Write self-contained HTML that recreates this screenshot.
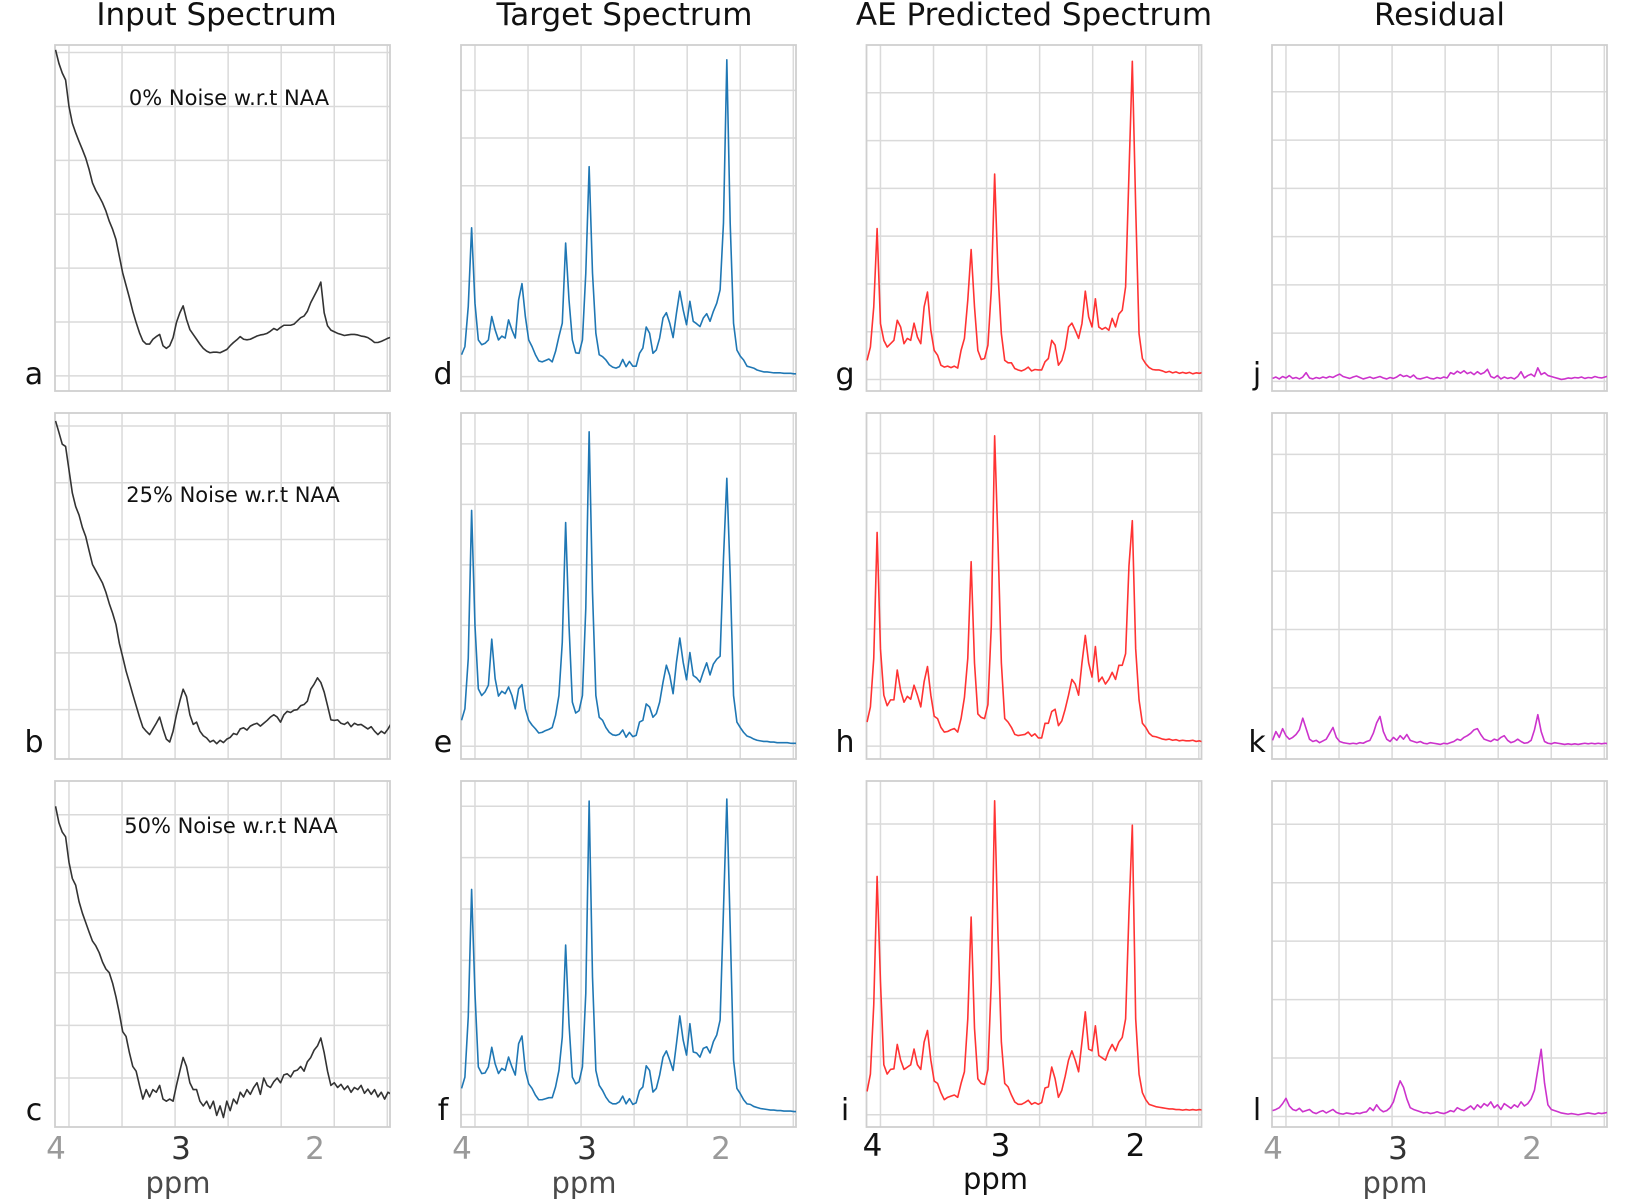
<!DOCTYPE html>
<html><head><meta charset="utf-8"><title>MRS spectra</title>
<style>html,body{margin:0;padding:0;background:#fff}svg{display:block}</style></head>
<body>
<svg id="fig" width="1632" height="1202" viewBox="0 0 1632 1202" xmlns="http://www.w3.org/2000/svg" font-family="DejaVu Sans, Liberation Sans, sans-serif"></svg>
<script>
// ---- data: sample grid (ppm) ----
const ppmStart = 4.04;
const ppmStep = 0.025;
const tickLabels = ["4", "3", "2"];
const tickPpmPlain = [4.037, 3.106, 2.108];
const tickPpmAE = [3.999, 3.046, 2.041];
const gridPpm = [3.94, 3.545, 3.15, 2.755, 2.36, 1.965, 1.57];
const columnTitles = ["Input Spectrum", "Target Spectrum", "AE Predicted Spectrum", "Residual"];
const noiseLabels = ["0% Noise w.r.t NAA", "25% Noise w.r.t NAA", "50% Noise w.r.t NAA"];

// ---- series values ----
const seriesA = [6.05,5.80,5.62,5.49,5.00,4.69,4.51,4.35,4.20,4.04,3.83,3.58,3.44,3.33,3.21,3.06,2.87,2.72,2.53,2.22,1.91,1.68,1.45,1.20,0.99,0.80,0.65,0.59,0.59,0.68,0.73,0.77,0.56,0.51,0.56,0.71,0.99,1.17,1.30,1.05,0.86,0.77,0.68,0.59,0.51,0.46,0.43,0.44,0.44,0.43,0.46,0.49,0.56,0.62,0.67,0.73,0.68,0.67,0.68,0.71,0.74,0.76,0.77,0.79,0.83,0.88,0.85,0.90,0.94,0.94,0.94,0.96,1.02,1.08,1.11,1.20,1.36,1.48,1.60,1.74,1.17,0.93,0.85,0.82,0.79,0.77,0.75,0.76,0.77,0.77,0.76,0.74,0.73,0.71,0.67,0.62,0.62,0.64,0.67,0.70,0.72];
const seriesB = [6.09,5.89,5.68,5.64,5.23,4.82,4.58,4.43,4.21,4.05,3.80,3.56,3.45,3.34,3.23,3.07,2.87,2.70,2.50,2.17,1.93,1.68,1.48,1.27,1.07,0.87,0.69,0.62,0.56,0.66,0.76,0.87,0.66,0.48,0.43,0.62,0.91,1.15,1.36,1.23,0.91,0.74,0.78,0.62,0.54,0.50,0.43,0.46,0.40,0.46,0.42,0.48,0.51,0.58,0.56,0.66,0.68,0.64,0.71,0.74,0.76,0.71,0.76,0.81,0.87,0.91,0.87,0.78,0.91,0.97,0.95,0.99,1.00,1.07,1.09,1.15,1.36,1.45,1.56,1.48,1.31,1.07,0.82,0.81,0.82,0.76,0.74,0.78,0.70,0.76,0.73,0.74,0.70,0.66,0.70,0.62,0.56,0.62,0.58,0.66,0.76];
const seriesC = [6.16,5.85,5.67,5.58,5.10,4.79,4.66,4.35,4.13,3.95,3.77,3.60,3.51,3.38,3.20,3.07,3.00,2.80,2.54,2.23,1.88,1.79,1.48,1.22,1.13,0.86,0.60,0.78,0.64,0.78,0.73,0.86,0.60,0.56,0.60,0.56,0.86,1.13,1.39,1.22,0.91,0.78,0.78,0.56,0.47,0.56,0.42,0.56,0.29,0.47,0.25,0.56,0.38,0.60,0.51,0.73,0.64,0.78,0.69,0.82,0.91,0.69,1.00,0.86,0.82,0.93,1.00,0.91,1.06,1.08,1.02,1.13,1.15,1.22,1.13,1.31,1.39,1.53,1.61,1.76,1.48,1.13,0.86,0.91,0.82,0.88,0.78,0.85,0.73,0.82,0.78,0.86,0.71,0.79,0.69,0.78,0.64,0.73,0.60,0.73,0.69];
const seriesD = [0.46,0.63,1.47,3.12,1.54,0.77,0.67,0.70,0.77,1.26,0.98,0.77,0.85,0.81,1.19,0.98,0.81,1.61,1.95,1.26,0.77,0.63,0.46,0.33,0.31,0.34,0.37,0.31,0.53,0.84,1.12,2.80,1.61,0.77,0.50,0.49,0.77,2.17,4.40,2.17,0.91,0.46,0.42,0.35,0.25,0.20,0.18,0.21,0.36,0.21,0.32,0.22,0.22,0.49,0.60,1.04,0.91,0.49,0.56,0.81,1.23,1.34,1.12,0.82,1.33,1.79,1.40,1.09,1.58,1.16,1.11,1.05,1.23,1.32,1.16,1.37,1.54,1.82,3.22,6.64,3.22,1.12,0.56,0.43,0.35,0.22,0.20,0.18,0.14,0.12,0.10,0.10,0.09,0.08,0.08,0.08,0.07,0.07,0.07,0.06,0.06];
const seriesE = [0.43,0.62,1.45,3.90,2.00,0.95,0.84,0.90,1.01,1.77,1.12,0.83,0.91,0.87,0.98,0.84,0.62,0.95,1.02,0.62,0.43,0.35,0.29,0.22,0.23,0.26,0.28,0.31,0.51,0.84,1.72,3.70,2.00,0.73,0.55,0.59,0.84,2.28,5.20,2.55,0.84,0.48,0.43,0.31,0.23,0.19,0.18,0.20,0.27,0.15,0.23,0.16,0.18,0.40,0.43,0.70,0.65,0.48,0.54,0.73,1.06,1.34,1.17,0.87,1.39,1.79,1.39,1.10,1.55,1.17,1.13,1.06,1.23,1.38,1.18,1.36,1.44,1.49,3.10,4.43,2.83,0.84,0.40,0.31,0.23,0.17,0.15,0.12,0.10,0.09,0.08,0.08,0.07,0.07,0.06,0.06,0.06,0.06,0.05,0.05,0.05];
const seriesF = [0.51,0.73,1.90,4.38,2.36,0.93,0.80,0.81,0.93,1.31,0.99,0.80,0.90,0.86,1.12,0.93,0.77,1.38,1.53,0.86,0.60,0.51,0.38,0.29,0.29,0.31,0.33,0.33,0.54,0.86,1.51,3.30,1.77,0.73,0.60,0.64,0.93,2.36,6.10,2.68,0.86,0.57,0.47,0.34,0.25,0.21,0.21,0.25,0.36,0.21,0.31,0.20,0.23,0.47,0.54,0.95,0.86,0.44,0.51,0.77,1.12,1.24,1.06,0.86,1.38,1.92,1.45,1.16,1.77,1.22,1.20,1.12,1.29,1.32,1.20,1.42,1.55,1.84,3.98,6.14,3.66,1.06,0.51,0.41,0.29,0.21,0.20,0.16,0.14,0.12,0.11,0.10,0.09,0.09,0.08,0.08,0.07,0.07,0.07,0.06,0.06];
const seriesG = [0.40,0.68,1.52,3.16,1.17,0.82,0.68,0.75,0.82,1.24,1.10,0.75,0.86,0.82,1.18,0.89,0.75,1.52,1.83,1.03,0.61,0.51,0.30,0.26,0.28,0.25,0.28,0.24,0.61,0.86,1.66,2.72,1.52,0.61,0.42,0.44,0.72,1.87,4.30,2.22,0.96,0.40,0.35,0.35,0.23,0.20,0.18,0.21,0.26,0.18,0.21,0.20,0.20,0.37,0.44,0.82,0.72,0.30,0.40,0.65,1.10,1.18,1.03,0.86,1.17,1.85,1.31,1.10,1.69,1.10,1.05,1.09,1.03,1.28,1.10,1.37,1.45,1.94,4.31,6.66,3.61,0.96,0.44,0.33,0.25,0.21,0.20,0.20,0.18,0.15,0.17,0.14,0.16,0.13,0.15,0.13,0.15,0.12,0.14,0.13,0.15];
const seriesH = [0.41,0.67,1.50,3.65,1.66,0.87,0.69,0.79,0.79,1.30,0.95,0.75,0.85,0.80,1.04,0.87,0.67,1.10,1.36,0.87,0.51,0.47,0.32,0.24,0.25,0.28,0.30,0.24,0.47,0.83,1.50,3.15,1.42,0.55,0.49,0.47,0.71,2.05,5.30,3.47,1.42,0.47,0.41,0.32,0.20,0.18,0.19,0.20,0.24,0.17,0.21,0.14,0.14,0.39,0.39,0.59,0.63,0.35,0.43,0.63,0.87,1.14,1.06,0.87,1.42,1.89,1.42,1.18,1.70,1.10,1.18,1.06,1.14,1.26,1.14,1.38,1.38,1.58,3.08,3.85,1.66,0.79,0.39,0.32,0.22,0.17,0.16,0.14,0.12,0.11,0.12,0.10,0.11,0.09,0.10,0.09,0.09,0.10,0.08,0.09,0.07];
const seriesI = [0.40,0.70,1.89,4.10,2.29,0.86,0.70,0.78,0.79,1.21,0.94,0.78,0.82,0.86,1.13,0.86,0.78,1.25,1.45,0.94,0.58,0.54,0.38,0.26,0.30,0.32,0.34,0.30,0.54,0.74,1.65,3.40,1.49,0.62,0.54,0.52,0.78,2.29,5.40,3.08,1.25,0.54,0.48,0.34,0.22,0.18,0.18,0.21,0.25,0.18,0.21,0.18,0.21,0.46,0.48,0.82,0.62,0.30,0.42,0.66,0.94,1.10,0.94,0.74,1.25,1.77,1.13,1.10,1.53,1.02,0.98,0.94,1.10,1.21,1.10,1.25,1.33,1.65,3.48,4.98,1.65,0.70,0.38,0.26,0.18,0.16,0.14,0.13,0.12,0.11,0.10,0.10,0.09,0.09,0.08,0.09,0.08,0.09,0.08,0.09,0.08];
const seriesJ = [0.06,0.09,0.05,0.10,0.07,0.12,0.06,0.08,0.05,0.09,0.18,0.07,0.05,0.08,0.06,0.09,0.07,0.10,0.08,0.12,0.15,0.10,0.08,0.06,0.09,0.11,0.08,0.05,0.07,0.09,0.06,0.08,0.10,0.07,0.05,0.08,0.06,0.09,0.14,0.10,0.12,0.08,0.13,0.06,0.05,0.07,0.09,0.06,0.05,0.08,0.06,0.09,0.07,0.18,0.15,0.21,0.17,0.22,0.16,0.19,0.14,0.20,0.15,0.18,0.25,0.10,0.07,0.12,0.05,0.09,0.06,0.08,0.05,0.10,0.20,0.07,0.12,0.15,0.10,0.28,0.14,0.18,0.12,0.10,0.08,0.06,0.04,0.05,0.07,0.06,0.08,0.07,0.09,0.06,0.08,0.07,0.10,0.08,0.07,0.09,0.11];
const seriesK = [0.10,0.25,0.15,0.30,0.18,0.12,0.15,0.20,0.28,0.48,0.30,0.12,0.08,0.10,0.06,0.09,0.12,0.22,0.32,0.15,0.08,0.06,0.05,0.04,0.05,0.04,0.06,0.05,0.08,0.10,0.22,0.40,0.51,0.25,0.12,0.08,0.15,0.10,0.18,0.12,0.20,0.10,0.08,0.06,0.08,0.05,0.04,0.06,0.05,0.04,0.03,0.05,0.04,0.06,0.08,0.12,0.10,0.15,0.18,0.22,0.28,0.30,0.20,0.12,0.10,0.08,0.12,0.10,0.15,0.18,0.10,0.06,0.08,0.12,0.08,0.05,0.06,0.10,0.28,0.54,0.25,0.08,0.05,0.04,0.06,0.05,0.04,0.03,0.04,0.03,0.04,0.03,0.04,0.05,0.04,0.05,0.04,0.05,0.04,0.05,0.04];
const seriesL = [0.10,0.12,0.15,0.22,0.31,0.18,0.12,0.10,0.14,0.08,0.10,0.12,0.07,0.05,0.08,0.10,0.06,0.09,0.12,0.07,0.05,0.04,0.06,0.05,0.04,0.06,0.05,0.07,0.08,0.15,0.10,0.20,0.12,0.08,0.10,0.15,0.25,0.45,0.61,0.50,0.30,0.15,0.12,0.10,0.08,0.06,0.07,0.05,0.06,0.08,0.06,0.05,0.07,0.10,0.08,0.15,0.12,0.10,0.14,0.18,0.12,0.20,0.15,0.22,0.18,0.25,0.15,0.20,0.12,0.22,0.18,0.14,0.20,0.16,0.25,0.18,0.22,0.30,0.45,0.80,1.15,0.57,0.20,0.12,0.10,0.08,0.06,0.05,0.04,0.05,0.04,0.03,0.04,0.05,0.06,0.05,0.04,0.06,0.05,0.06,0.07];

// ---- layout (not data) ----
const colLeft = [55, 461, 866.5, 1272];
const colW = 335;
const rowTop = [45, 413, 781];
const rowH = 346;
const xDomain = [4.044, 1.55];
const colColors = ["#333333", "#1f77b4", "#ff3333", "#cc33cc"];
const panels = [
  {id:"a", r:0,c:0, s:seriesA, dom:[-0.28,6.14], g:[0,6]},
  {id:"d", r:0,c:1, s:seriesD, dom:[-0.30,6.95], g:[0,6]},
  {id:"g", r:0,c:2, s:seriesG, dom:[-0.24,7.00], g:[0,6]},
  {id:"j", r:0,c:3, s:seriesJ, dom:[-0.20,6.97], g:[0,6]},
  {id:"b", r:1,c:0, s:seriesB, dom:[0.13,6.23], g:[1,6]},
  {id:"e", r:1,c:1, s:seriesE, dom:[-0.21,5.51], g:[0,5]},
  {id:"h", r:1,c:2, s:seriesH, dom:[-0.22,5.69], g:[0,5]},
  {id:"k", r:1,c:3, s:seriesK, dom:[-0.22,5.71], g:[0,5]},
  {id:"c", r:2,c:0, s:seriesC, dom:[0.07,6.64], g:[1,6]},
  {id:"f", r:2,c:1, s:seriesF, dom:[-0.24,6.49], g:[0,6]},
  {id:"i", r:2,c:2, s:seriesI, dom:[-0.21,5.74], g:[0,5]},
  {id:"l", r:2,c:3, s:seriesL, dom:[-0.18,5.74], g:[0,5]}
];
const letterX = [34, 443, 845, 1257];
const letterY = [384, 752, 1120];

const NS = "http://www.w3.org/2000/svg";
const svg = document.getElementById("fig");
function mk(tag, attrs, parent) {
  const e = document.createElementNS(NS, tag);
  for (const k in attrs) e.setAttribute(k, attrs[k]);
  (parent || svg).appendChild(e);
  return e;
}
function xScale(c, ppm) { return colLeft[c] + (xDomain[0] - ppm) / (xDomain[0] - xDomain[1]) * colW; }
function yScale(p, v) { const T = rowTop[p.r]; return T + rowH - (v - p.dom[0]) / (p.dom[1] - p.dom[0]) * rowH; }

const defs = mk("defs", {});
panels.forEach(p => {
  const L = colLeft[p.c], T = rowTop[p.r];
  const cp = mk("clipPath", {id: "clip-" + p.id}, defs);
  mk("rect", {x: L, y: T, width: colW, height: rowH}, cp);
  const g = mk("g", {});
  
  
  gridPpm.forEach(pp => {
    const x = xScale(p.c, pp);
    const ln = mk("line", {x1: x, x2: x, y1: T, y2: T + rowH, stroke: "#dadada", "stroke-width": 1.5}, g);
    
    
  });
  for (let v = p.g[0]; v <= p.g[1]; v++) {
    const y = yScale(p, v);
    const ln = mk("line", {x1: L, x2: L + colW, y1: y, y2: y, stroke: "#dadada", "stroke-width": 1.5}, g);
    
    
  }
  const fr = mk("rect", {x: L, y: T, width: colW, height: rowH, fill: "none", stroke: "#cfcfcf", "stroke-width": 1.8}, g);
  
  
  let d = "";
  p.s.forEach((v, i) => {
    const x = xScale(p.c, ppmStart - ppmStep * i);
    d += (i ? "L" : "M") + x.toFixed(2) + "," + yScale(p, v).toFixed(2);
  });
  const path = mk("path", {d: d, fill: "none", stroke: colColors[p.c], "stroke-width": 1.6, "stroke-linejoin": "round", "clip-path": "url(#clip-" + p.id + ")"}, g);
  
  
  const lt = mk("text", {x: letterX[p.c], y: letterY[p.r], "font-size": 30, "text-anchor": "middle", fill: "#111"}, g);
  lt.textContent = p.id;
  
  
});

// column titles
columnTitles.forEach((t, c) => {
  const e = mk("text", {x: colLeft[c] + colW / 2 + (c === 0 ? -6 : (c === 1 ? -4 : 0)), y: 25, "font-size": 31, "text-anchor": "middle", fill: "#111"});
  e.textContent = t;
  
  
});

// noise annotations
const noteX = [229, 233, 231];
const noteY = [105, 502, 833];
noiseLabels.forEach((t, r) => {
  const e = mk("text", {x: noteX[r], y: noteY[r], "font-size": 21, "text-anchor": "middle", fill: "#111"});
  e.textContent = t;
  
  
});

// x tick labels + axis titles
for (let c = 0; c < 4; c++) {
  const ae = c === 2;
  const pos = ae ? tickPpmAE : tickPpmPlain;
  tickLabels.forEach((lab, k) => {
    const col = ae ? "#111" : (k === 1 ? "#333" : "#9a9a9a");
    const e = mk("text", {x: xScale(c, pos[k]), y: ae ? 1156 : 1159, "font-size": 31, "text-anchor": "middle", fill: col});
    e.textContent = lab;
    
    
  });
  const t = mk("text", {x: colLeft[c] + (ae ? 129 : 123), y: ae ? 1189 : 1193, "font-size": 29, "text-anchor": "middle", fill: ae ? "#111" : "#4a4a4a"});
  t.textContent = "ppm";
  
  
}
</script>
</body></html>
